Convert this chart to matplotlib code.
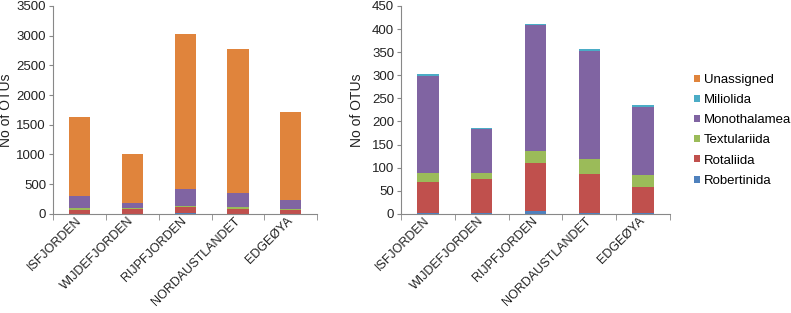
import matplotlib
matplotlib.use("Agg")
import matplotlib.pyplot as plt
import matplotlib.transforms as mtransforms
import numpy as np

plt.rcParams['font.family'] = ['Liberation Sans', 'DejaVu Sans']

sites = ['ISFJORDEN', 'WIJDEFJORDEN', 'RIJPFJORDEN', 'NORDAUSTLANDET', 'EDGEØYA']
robertinida = [1, 1, 7, 2, 2]
rotaliida = [68, 74, 102, 85, 56]
textulariida = [20, 14, 26, 32, 27]
monothalamea = [210, 94, 274, 233, 147]
miliolida = [4, 3, 2, 4, 3]
unassigned = [1332, 814, 2617, 2414, 1484]

series = [('Robertinida', robertinida, '#4F81BD'),
          ('Rotaliida', rotaliida, '#C0504D'),
          ('Textulariida', textulariida, '#9BBB59'),
          ('Monothalamea', monothalamea, '#8064A2'),
          ('Miliolida', miliolida, '#4BACC6'),
          ('Unassigned', unassigned, '#E0843C')]

fig = plt.figure(figsize=(7.91, 3.13), dpi=100)
ax1 = fig.add_axes([0.067, 0.317, 0.334, 0.664])
ax2 = fig.add_axes([0.507, 0.317, 0.340, 0.664])

x = np.arange(len(sites))


def draw(ax, items, ymax, step, ylab_x):
    bottom = np.zeros(len(sites))
    handles = []
    for name, vals, col in items:
        h = ax.bar(x, vals, 0.4, bottom=bottom, color=col, label=name)
        bottom += np.array(vals)
        handles.append(h)
    ax.set_xlim(-0.5, len(sites) - 0.5)
    ax.set_ylim(0, ymax)
    ax.set_yticks(np.arange(0, ymax + 1, step))
    ax.set_xticks(x)
    ax.set_xticklabels(sites, rotation=45, ha='right', va='center',
                       rotation_mode='anchor', fontsize=9, color='#222222')
    shift = mtransforms.ScaledTranslation(10 / 100, -6 / 100, fig.dpi_scale_trans)
    for lab in ax.get_xticklabels():
        lab.set_transform(lab.get_transform() + shift)
    ax.set_xticks(np.arange(-0.5, len(sites)), minor=True)
    ax.tick_params(axis='x', which='major', length=0, pad=4)
    ax.tick_params(axis='x', which='minor', length=4, direction='out', color='#888888')
    ax.tick_params(axis='y', length=3, color='#888888', labelsize=9.5, colors='#222222', pad=2)
    for s in ['top', 'right']:
        ax.spines[s].set_visible(False)
    for s in ['left', 'bottom']:
        ax.spines[s].set_color('#888888')
    ax.set_ylabel('No of OTUs', fontsize=10, color='#222222')
    ax.yaxis.set_label_coords(ylab_x, 0.5)
    return handles


draw(ax1, series, 3500, 500, -0.15)
handles = draw(ax2, series[:-1], 450, 50, -0.138)

h_unas = ax2.bar(x, [0] * len(sites), 0.4, color='#E0843C', label='Unassigned')
hs = [h_unas] + handles[::-1]
fig.legend(hs, [h.get_label() for h in hs], loc='upper left',
           bbox_to_anchor=(0.862, 0.802), frameon=False, fontsize=9.5,
           handlelength=0.45, handleheight=0.45, handletextpad=0.3,
           labelspacing=0.62)

fig.savefig('out.png', dpi=100)
